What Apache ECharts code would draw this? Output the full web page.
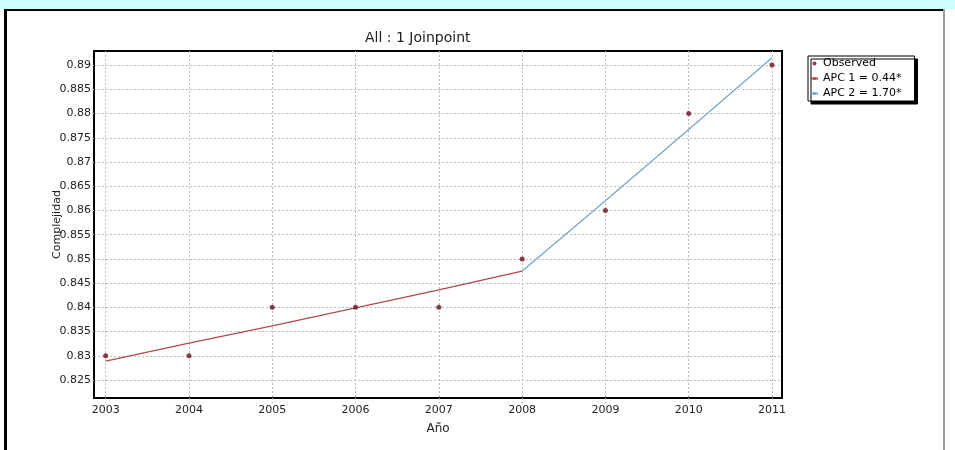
<!DOCTYPE html>
<html>
<head>
<meta charset="utf-8">
<script src="https://cdn.jsdelivr.net/npm/echarts@6/dist/echarts.min.js"></script>
<style>
html,body{margin:0;padding:0;background:#fff;}
#chart{width:955px;height:450px;}
</style>
</head>
<body>
<div id="chart"></div>
<script>
// ---- data ----
var years = [2003, 2004, 2005, 2006, 2007, 2008, 2009, 2010, 2011];
var observed = [0.83, 0.83, 0.84, 0.84, 0.84, 0.85, 0.86, 0.88, 0.89];
var apc1Years = [2003, 2004, 2005, 2006, 2007, 2008];
var apc1Values = [0.8289, 0.8326, 0.8362, 0.8399, 0.8436, 0.8475];
var apc2Years = [2008, 2009, 2010, 2011];
var apc2Values = [0.8475, 0.8620, 0.8767, 0.8915];
var yTickLabels = [0.825, 0.83, 0.835, 0.84, 0.845, 0.85, 0.855, 0.86, 0.865, 0.87, 0.875, 0.88, 0.885, 0.89];
var seriesNames = ['Observed', 'APC 1 = 0.44*', 'APC 2 = 1.70*'];
var titleText = 'All : 1 Joinpoint';
var xName = 'Año';
var yName = 'Complejidad';

function pairs(xs, ys) { return xs.map(function (x, i) { return [x, ys[i]]; }); }

var FONT = 'DejaVu Sans';
var gridLine = { show: true, lineStyle: { color: '#bdbdbd', width: 1, type: [2, 2] } };

var chart = echarts.init(document.getElementById('chart'), null, { renderer: 'canvas' });
chart.setOption({
  backgroundColor: '#ffffff',
  animation: false,
  graphic: [
    { type: 'rect', left: 0, top: 0, shape: { width: 955, height: 9 }, style: { fill: '#ccffff' }, z: 0 },
    { type: 'rect', left: 4, top: 9, shape: { width: 940, height: 2 }, style: { fill: '#000' }, z: 1 },
    { type: 'rect', left: 4, top: 9, shape: { width: 3, height: 441 }, style: { fill: '#000' }, z: 1 },
    { type: 'rect', left: 943, top: 9, shape: { width: 2, height: 441 }, style: { fill: '#9a9a9a' }, z: 1 }
  ],
  title: {
    text: titleText,
    left: 365,
    top: 31,
    padding: 0,
    textStyle: { fontFamily: FONT, fontSize: 14, fontWeight: 'normal', color: '#222' }
  },
  legend: {
    orient: 'vertical',
    left: 808,
    top: 56,
    padding: [2, 13, 2, 2],
    itemWidth: 7,
    itemHeight: 4,
    itemGap: 4,
    backgroundColor: '#fff',
    borderColor: '#000',
    borderWidth: 1,
    shadowColor: '#000',
    shadowOffsetX: 3,
    shadowOffsetY: 3,
    shadowBlur: 0,
    textStyle: { fontFamily: FONT, fontSize: 11, color: '#000' },
    data: [{ name: seriesNames[0], icon: 'circle' }, seriesNames[1], seriesNames[2]]
  },
  grid: {
    left: 94, right: 173, top: 51, bottom: 52,
    show: true, borderColor: '#000', borderWidth: 2, backgroundColor: '#fff'
  },
  xAxis: {
    type: 'value',
    min: 2002.86,
    max: 2011.12,
    splitNumber: 8,
    name: xName,
    nameLocation: 'middle',
    nameGap: 25,
    nameMoveOverlap: false,
    nameTextStyle: { fontFamily: FONT, fontSize: 12, color: '#222' },
    axisLine: { show: true, lineStyle: { color: '#000', width: 2 } },
    axisTick: { show: true, length: 5, customValues: years, lineStyle: { color: '#bdbdbd', type: [2, 2] } },
    axisLabel: { customValues: years, margin: 7, fontFamily: FONT, fontSize: 11, color: '#222',
      formatter: function (v) { return String(v); } },
    splitLine: gridLine
  },
  yAxis: {
    type: 'value',
    min: 0.8213,
    max: 0.8929,
    splitNumber: 14,
    name: yName,
    nameLocation: 'middle',
    nameGap: 31,
    nameMoveOverlap: false,
    nameTextStyle: { fontFamily: FONT, fontSize: 11, color: '#222' },
    axisLine: { show: true, lineStyle: { color: '#000', width: 2 } },
    axisTick: { show: true, length: 3, customValues: yTickLabels, lineStyle: { color: '#bdbdbd', type: [2, 2] } },
    axisLabel: { customValues: yTickLabels, margin: 3, fontFamily: FONT, fontSize: 11, color: '#222',
      formatter: function (v) { return String(v); } },
    splitLine: gridLine
  },
  series: [
    {
      name: seriesNames[0],
      type: 'scatter',
      data: pairs(years, observed),
      symbol: 'circle',
      symbolSize: 5,
      itemStyle: { color: '#6a0f1e' },
      z: 5
    },
    {
      name: seriesNames[1],
      type: 'line',
      data: pairs(apc1Years, apc1Values),
      symbol: 'none',
      lineStyle: { color: '#b5484a', width: 1.3 },
      itemStyle: { color: '#b5484a' },
      z: 3
    },
    {
      name: seriesNames[2],
      type: 'line',
      data: pairs(apc2Years, apc2Values),
      symbol: 'none',
      lineStyle: { color: '#7aa5c4', width: 1.3 },
      itemStyle: { color: '#7aa5c4' },
      z: 3
    }
  ]
});
</script>
</body>
</html>
